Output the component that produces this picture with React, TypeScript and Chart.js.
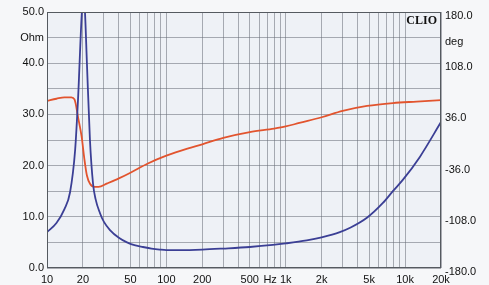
import React, { useEffect, useRef } from "react";
import { Chart, registerables } from "chart.js";

Chart.register(...registerables);

// Impedance (Ohm) vs frequency (Hz)
const impFreqs = [10, 12, 14, 15.6, 17.2, 18.2, 19.6, 20.2, 20.8, 21.6, 22.9, 24.3, 25.5, 27.8, 30, 33.7, 40, 46.8, 55, 63.7, 75, 88, 100, 130, 200, 300, 500, 780, 1000, 1500, 2000, 2840, 3500, 4790, 6520, 7900, 9570, 13300, 20000];
const impValues = [7.0, 8.8, 11.5, 14.8, 23, 33, 50, 53, 50, 40, 25, 16.5, 13.5, 10.7, 9.0, 7.4, 5.9, 5.0, 4.4, 4.1, 3.8, 3.6, 3.5, 3.5, 3.6, 3.8, 4.1, 4.5, 4.8, 5.4, 6.0, 7.0, 7.9, 9.8, 12.7, 15.0, 17.2, 21.7, 28.5];

// Phase (deg) vs frequency (Hz)
const phaseFreqs = [10, 12, 14, 16, 17, 18.3, 19.5, 20.5, 21.6, 23, 25, 27, 32, 40, 50, 70, 100, 150, 200, 300, 500, 800, 1000, 1300, 2000, 3000, 4800, 7900, 12500, 20000];
const phaseValues = [55, 58, 60, 60, 57, 30, 5, -25, -50, -62, -66, -66, -61, -54, -46, -33, -22, -12, -6, 3, 11, 16, 19, 24, 32, 41, 48, 52, 54, 56];

// Axis labels
const xLabelValues = [10, 20, 50, 100, 200, 500, 740, 1000, 2000, 5000, 10000, 20000];
const xLabelTexts = ["10", "20", "50", "100", "200", "500", "Hz", "1k", "2k", "5k", "10k", "20k"];
const leftLabelValues = [0, 10, 20, 30, 40, 45, 50];
const leftLabelTexts = ["0.0", "10.0", "20.0", "30.0", "40.0", "Ohm", "50.0"];
const rightLabelValues = [-180, -108, -36, 36, 108, 144, 180];
const rightLabelTexts = ["-180.0", "-108.0", "-36.0", "36.0", "108.0", "deg", "180.0"];

const gridFreqs: number[] = [];
for (const d of [10, 100, 1000]) for (let m = 1; m <= 9; m++) gridFreqs.push(d * m);
gridFreqs.push(10000, 20000);

const FONT = { family: "'Liberation Sans', Arial, sans-serif", size: 11 };
const GRID = "rgba(105,110,120,0.55)";

export default function App() {
  const ref = useRef<HTMLCanvasElement>(null);
  useEffect(() => {
    const canvas = ref.current!;
    const decor = {
      id: "decor",
      beforeDraw(chart: any) {
        const { ctx, chartArea: a } = chart;
        ctx.save();
        ctx.fillStyle = "#eef1f6";
        ctx.fillRect(a.left, a.top, a.right - a.left, a.bottom - a.top);
        ctx.restore();
      },
      afterDraw(chart: any) {
        const { ctx, chartArea: a } = chart;
        ctx.save();
        ctx.strokeStyle = "#555a60";
        ctx.lineWidth = 1;
        ctx.strokeRect(a.left + 0.5, a.top + 0.5, a.right - a.left - 1, a.bottom - a.top - 1);
        ctx.fillStyle = "#111";
        ctx.font = "bold 12px 'Liberation Serif', serif";
        ctx.textAlign = "right";
        ctx.textBaseline = "alphabetic";
        ctx.fillText("CLIO", a.right - 4, a.top + 12);
        ctx.restore();
      },
    };
    const tickValues = [...gridFreqs, 740].sort((a, b) => a - b);
    const chart = new Chart(canvas, {
      type: "line",
      data: {
        datasets: [
          {
            data: impFreqs.map((f, i) => ({ x: f, y: impValues[i] })),
            borderColor: "#3b3f95",
            borderWidth: 1.8,
            pointRadius: 0,
            cubicInterpolationMode: "monotone",
            yAxisID: "y",
          },
          {
            data: phaseFreqs.map((f, i) => ({ x: f, y: phaseValues[i] })),
            borderColor: "#e2542e",
            borderWidth: 1.8,
            pointRadius: 0,
            cubicInterpolationMode: "monotone",
            yAxisID: "y2",
          },
        ],
      },
      options: {
        animation: false,
        responsive: false,
        devicePixelRatio: 1,
        layout: { padding: { top: 12, left: 0, right: 0, bottom: 0 } },
        plugins: { legend: { display: false }, tooltip: { enabled: false } },
        scales: {
          x: {
            type: "logarithmic",
            min: 10,
            max: 20000,
            afterBuildTicks: (s: any) => {
              s.ticks = tickValues.map((v) => ({ value: v }));
            },
            afterFit: (s: any) => {
              s.height = 17;
            },
            grid: {
              color: (c: any) => (c.tick && gridFreqs.indexOf(c.tick.value) < 0 ? "rgba(0,0,0,0)" : GRID),
              drawTicks: false,
            },
            border: { display: false },
            ticks: {
              autoSkip: false,
              maxRotation: 0,
              padding: 5,
              color: "#111",
              font: FONT,
              callback: (v: any) => {
                const i = xLabelValues.indexOf(Number(v));
                return i >= 0 ? xLabelTexts[i] : "";
              },
            },
          },
          y: {
            position: "left",
            min: 0,
            max: 50,
            afterFit: (s: any) => {
              s.width = 47;
            },
            grid: { color: GRID, drawTicks: false },
            border: { display: false },
            ticks: {
              stepSize: 5,
              padding: 3,
              color: "#111",
              font: FONT,
              callback: (v: any) => {
                const i = leftLabelValues.indexOf(Number(v));
                return i >= 0 ? leftLabelTexts[i] : "";
              },
            },
          },
          y2: {
            position: "right",
            min: -180,
            max: 180,
            afterFit: (s: any) => {
              s.width = 48;
            },
            grid: { drawOnChartArea: false, drawTicks: false },
            border: { display: false },
            ticks: {
              stepSize: 36,
              padding: 4,
              labelOffset: 4,
              color: "#111",
              font: FONT,
              callback: (v: any) => {
                const i = rightLabelValues.indexOf(Math.round(Number(v)));
                return i >= 0 ? rightLabelTexts[i] : "";
              },
            },
          },
        },
      },
      plugins: [decor],
    } as any);
    return () => chart.destroy();
  }, []);
  return (
    <div style={{ position: "fixed", left: 0, top: 0, width: 489, height: 285, background: "#f6f7f9" }}>
      <canvas ref={ref} width={489} height={285} />
    </div>
  );
}
